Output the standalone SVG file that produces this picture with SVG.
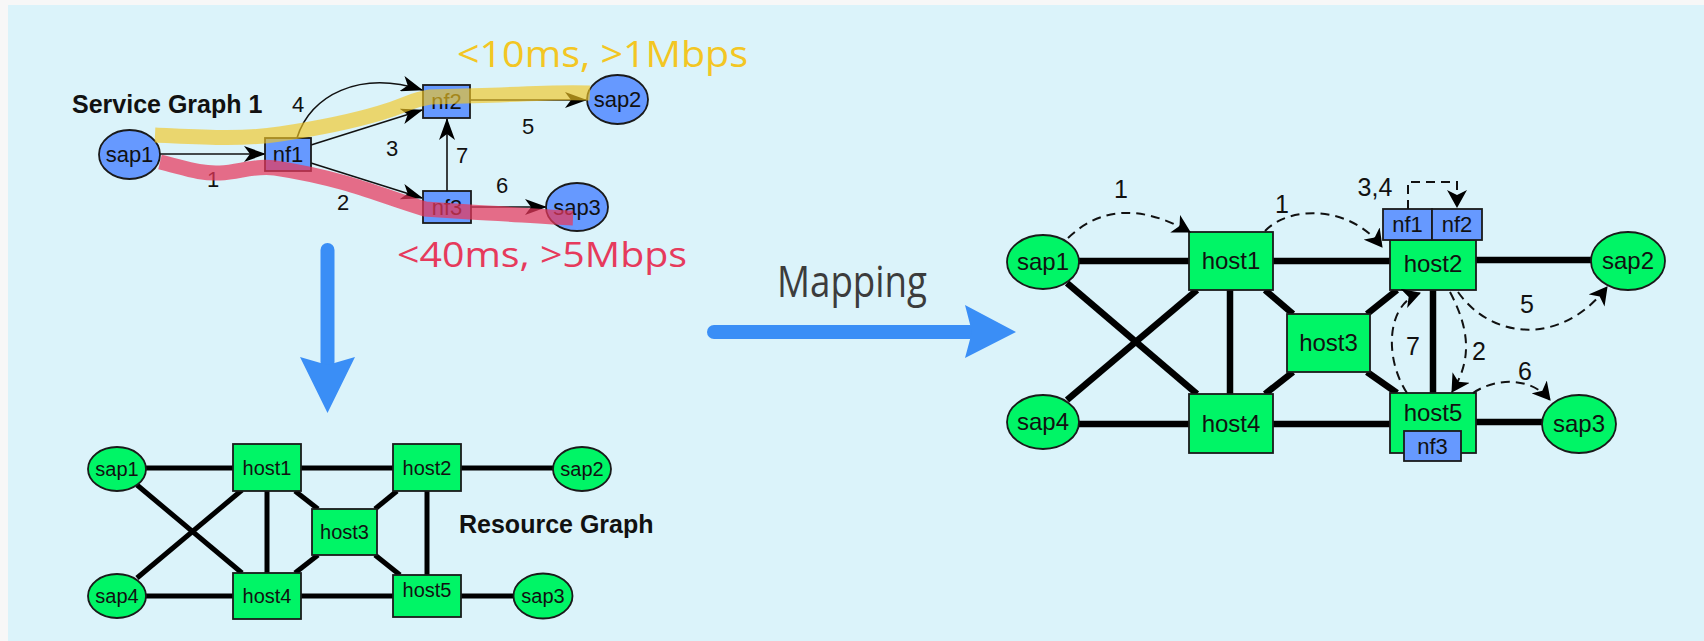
<svg xmlns="http://www.w3.org/2000/svg" width="1704" height="641" viewBox="0 0 1704 641">
<defs>
<style>
.sgn{fill:#6699ff;stroke:#1a1a1a;stroke-width:1.8}
.gn{fill:#00f566;stroke:#1a1a1a;stroke-width:1.8}
.t{font-family:"Liberation Sans",Arial,sans-serif;fill:#111;text-anchor:middle}
.e{stroke:#000;fill:none}
.se{stroke:#111;stroke-width:1.6;fill:none;marker-end:url(#arr)}
.de{stroke:#111;stroke-width:2;fill:none;stroke-dasharray:9 6;marker-end:url(#arrd)}
.big{font-family:"Open Sans","Liberation Sans",sans-serif;font-weight:400}
</style>
<marker id="arr" viewBox="0 0 22 16" refX="21" refY="8" markerWidth="22" markerHeight="16" markerUnits="userSpaceOnUse" orient="auto"><path d="M0,0 L22,8 L0,16 L6,8 Z" fill="#000"/></marker>
<marker id="arrd" viewBox="0 0 18 20" refX="17" refY="10" markerWidth="18" markerHeight="20" markerUnits="userSpaceOnUse" orient="auto"><path d="M0,0 L18,10 L0,20 L5,10 Z" fill="#000"/></marker>
</defs>
<rect x="0" y="0" width="1704" height="641" fill="#f7f7f7"/>
<rect x="8" y="5" width="1696" height="636" fill="#dbf3fa"/>

<!-- Service graph connectors -->
<g id="sg-connectors">
<line class="se" x1="160" y1="154" x2="265" y2="154"/>
<line class="se" x1="311" y1="145" x2="422" y2="110"/>
<path class="se" d="M297,138 C310,95 360,70 422,90"/>
<line class="se" x1="311" y1="163" x2="422" y2="198"/>
<line class="se" x1="447" y1="191" x2="447" y2="119"/>
<line class="se" x1="470" y1="100" x2="586" y2="100"/>
<line class="se" x1="471" y1="207" x2="546" y2="207"/>
</g>
<g id="sg-labels" class="t" font-size="22">
<text x="298" y="112">4</text>
<text x="392" y="156">3</text>
<text x="462" y="163">7</text>
<text x="213" y="187">1</text>
<text x="343" y="210">2</text>
<text x="502" y="193">6</text>
<text x="528" y="134">5</text>
</g>
<text id="sg-title" x="72" y="113" font-family="Liberation Sans,Arial,sans-serif" font-weight="bold" font-size="25" fill="#111">Service Graph 1</text>
<g id="sg-sap1"><ellipse class="sgn" cx="129.5" cy="154.5" rx="30.5" ry="24.5"/><text class="t" x="129.5" y="162" font-size="22">sap1</text></g>
<g id="sg-nf1"><rect class="sgn" x="265" y="138" width="46" height="33"/><text class="t" x="288" y="162" font-size="22">nf1</text></g>
<g id="sg-nf2"><rect class="sgn" x="423" y="85" width="47" height="33"/><text class="t" x="446.5" y="109" font-size="22">nf2</text></g>
<g id="sg-nf3"><rect class="sgn" x="423" y="191" width="48" height="32"/><text class="t" x="447" y="215" font-size="22">nf3</text></g>
<g id="sg-sap2"><ellipse class="sgn" cx="617.5" cy="99.5" rx="30.5" ry="24.5"/><text class="t" x="617.5" y="107" font-size="22">sap2</text></g>
<g id="sg-sap3"><ellipse class="sgn" cx="577" cy="207" rx="31" ry="24"/><text class="t" x="577" y="215" font-size="22">sap3</text></g>

<!-- highlight bands -->
<g id="bands" fill="none" stroke-width="15">
<path d="M155,135 C200,137 240,140 280,134 S350,122 380,113 S410,100 430,97 L500,95 C540,93 570,92 590,93" stroke="#f3c623" stroke-opacity="0.65"/>
<path d="M160,162 C185,168 200,174 220,173 S255,165 275,168 S320,176 345,183 S395,200 425,209 L470,212 C510,214 545,217 573,218" stroke="#e8375b" stroke-opacity="0.72"/>
</g>

<text id="qos1" class="big" x="457" y="67" font-size="36" fill="#f3c623" textLength="291" lengthAdjust="spacingAndGlyphs">&lt;10ms, &gt;1Mbps</text>
<text id="qos2" class="big" x="397" y="267" font-size="35" fill="#e63a5c" textLength="290" lengthAdjust="spacingAndGlyphs">&lt;40ms, &gt;5Mbps</text>
<text id="mapping-label" class="big" x="777" y="297" font-size="43" fill="#3c3c3c" textLength="150" lengthAdjust="spacingAndGlyphs">Mapping</text>

<!-- big blue arrows -->
<g id="big-arrows" fill="#3a8ef6">
<line x1="327.5" y1="250" x2="327.5" y2="362" stroke="#3a8ef6" stroke-width="14" stroke-linecap="round"/>
<path d="M300,357 L327.5,365 L355,357 L327.5,413 Z"/>
<line x1="714" y1="332" x2="970" y2="332" stroke="#3a8ef6" stroke-width="14" stroke-linecap="round"/>
<path d="M965,305 L972,332 L965,358 L1016,332 Z"/>
</g>

<!-- Resource graph -->
<g id="rg-connectors" class="e" stroke-width="5">
<line x1="146" y1="468" x2="233" y2="468"/>
<line x1="301" y1="468" x2="393" y2="468"/>
<line x1="461" y1="468" x2="553" y2="468"/>
<line x1="146" y1="596" x2="233" y2="596"/>
<line x1="301" y1="596" x2="393" y2="596"/>
<line x1="461" y1="596" x2="513" y2="596"/>
<line x1="137" y1="485" x2="242" y2="573"/>
<line x1="137" y1="578" x2="242" y2="490"/>
<line x1="267" y1="491" x2="267" y2="573"/>
<line x1="295" y1="491" x2="318" y2="509"/>
<line x1="295" y1="573" x2="318" y2="555"/>
<line x1="397" y1="491" x2="375" y2="509"/>
<line x1="400" y1="575" x2="375" y2="555"/>
<line x1="427" y1="491" x2="427" y2="575"/>
</g>
<g id="rg-sap1"><ellipse class="gn" cx="117" cy="469" rx="29" ry="22"/><text class="t" x="117" y="476" font-size="20">sap1</text></g>
<g id="rg-sap4"><ellipse class="gn" cx="117" cy="596" rx="29" ry="22"/><text class="t" x="117" y="603" font-size="20">sap4</text></g>
<g id="rg-host1"><rect class="gn" x="233" y="444" width="68" height="47"/><text class="t" x="267" y="475" font-size="20">host1</text></g>
<g id="rg-host2"><rect class="gn" x="393" y="444" width="68" height="47"/><text class="t" x="427" y="475" font-size="20">host2</text></g>
<g id="rg-host3"><rect class="gn" x="312" y="509" width="65" height="46"/><text class="t" x="344.5" y="539" font-size="20">host3</text></g>
<g id="rg-host4"><rect class="gn" x="233" y="573" width="68" height="46"/><text class="t" x="267" y="603" font-size="20">host4</text></g>
<g id="rg-host5"><rect class="gn" x="393" y="575" width="68" height="42"/><text class="t" x="427" y="597" font-size="20">host5</text></g>
<g id="rg-sap2"><ellipse class="gn" cx="582" cy="469" rx="29" ry="22"/><text class="t" x="582" y="476" font-size="20">sap2</text></g>
<g id="rg-sap3"><ellipse class="gn" cx="543" cy="596" rx="29.5" ry="22.5"/><text class="t" x="543" y="603" font-size="20">sap3</text></g>
<text id="rg-title" x="459" y="533" font-family="Liberation Sans,Arial,sans-serif" font-weight="bold" font-size="25" fill="#111">Resource Graph</text>

<!-- Mapped graph -->
<g id="mp-connectors" class="e" stroke-width="6.5">
<line x1="1079" y1="261" x2="1189" y2="261"/>
<line x1="1273" y1="261" x2="1390" y2="261"/>
<line x1="1476" y1="260" x2="1591" y2="260"/>
<line x1="1079" y1="424" x2="1189" y2="424"/>
<line x1="1273" y1="424" x2="1390" y2="424"/>
<line x1="1476" y1="422" x2="1542" y2="422"/>
<line x1="1067" y1="283" x2="1197" y2="394"/>
<line x1="1067" y1="400" x2="1197" y2="290"/>
<line x1="1230" y1="290" x2="1230" y2="394"/>
<line x1="1265" y1="290" x2="1293" y2="314"/>
<line x1="1265" y1="394" x2="1293" y2="372"/>
<line x1="1367" y1="314" x2="1397" y2="290"/>
<line x1="1367" y1="372" x2="1397" y2="393"/>
<line x1="1433" y1="290" x2="1433" y2="393"/>
</g>
<g id="mp-sap1"><ellipse class="gn" cx="1043" cy="262" rx="36" ry="27"/><text class="t" x="1043" y="270" font-size="24">sap1</text></g>
<g id="mp-sap4"><ellipse class="gn" cx="1043" cy="422" rx="36" ry="27"/><text class="t" x="1043" y="430" font-size="24">sap4</text></g>
<g id="mp-host1"><rect class="gn" x="1189" y="232" width="84" height="58"/><text class="t" x="1231" y="269" font-size="24">host1</text></g>
<g id="mp-host3"><rect class="gn" x="1287" y="314" width="83" height="58"/><text class="t" x="1328.5" y="351" font-size="24">host3</text></g>
<g id="mp-host4"><rect class="gn" x="1189" y="394" width="84" height="59"/><text class="t" x="1231" y="432" font-size="24">host4</text></g>
<g id="mp-host2"><rect class="gn" x="1390" y="240" width="86" height="50"/><text class="t" x="1433" y="272" font-size="24">host2</text></g>
<g id="mp-nf1"><rect class="sgn" x="1383" y="209" width="49" height="31"/><text class="t" x="1407.5" y="232" font-size="22">nf1</text></g>
<g id="mp-nf2"><rect class="sgn" x="1432" y="209" width="50" height="31"/><text class="t" x="1457" y="232" font-size="22">nf2</text></g>
<g id="mp-host5"><rect class="gn" x="1390" y="393" width="86" height="60"/><text class="t" x="1433" y="421" font-size="24">host5</text></g>
<g id="mp-nf3"><rect class="sgn" x="1404" y="431" width="57" height="30"/><text class="t" x="1432.5" y="454" font-size="22">nf3</text></g>
<g id="mp-sap2"><ellipse class="gn" cx="1628" cy="261" rx="37" ry="29"/><text class="t" x="1628" y="269" font-size="24">sap2</text></g>
<g id="mp-sap3"><ellipse class="gn" cx="1579" cy="424" rx="37" ry="29"/><text class="t" x="1579" y="432" font-size="24">sap3</text></g>

<g id="mp-flows">
<path class="de" d="M1068,238 Q1117,191 1190,232"/>
<path class="de" d="M1265,231 C1290,205 1350,205 1382,247"/>
<path class="de" d="M1408,209 V182 H1457 V207"/>
<path class="de" d="M1458,292 C1490,338 1560,348 1607,287"/>
<path class="de" d="M1450,292 C1470,330 1472,360 1452,392"/>
<path class="de" d="M1407,393 C1385,360 1385,305 1420,293"/>
<path class="de" d="M1473,393 C1495,378 1530,376 1550,400"/>
</g>
<g id="mp-labels" class="t" font-size="25">
<text x="1121" y="198">1</text>
<text x="1282" y="213">1</text>
<text x="1375" y="196">3,4</text>
<text x="1527" y="313">5</text>
<text x="1479" y="360">2</text>
<text x="1413" y="355">7</text>
<text x="1525" y="380">6</text>
</g>
</svg>
